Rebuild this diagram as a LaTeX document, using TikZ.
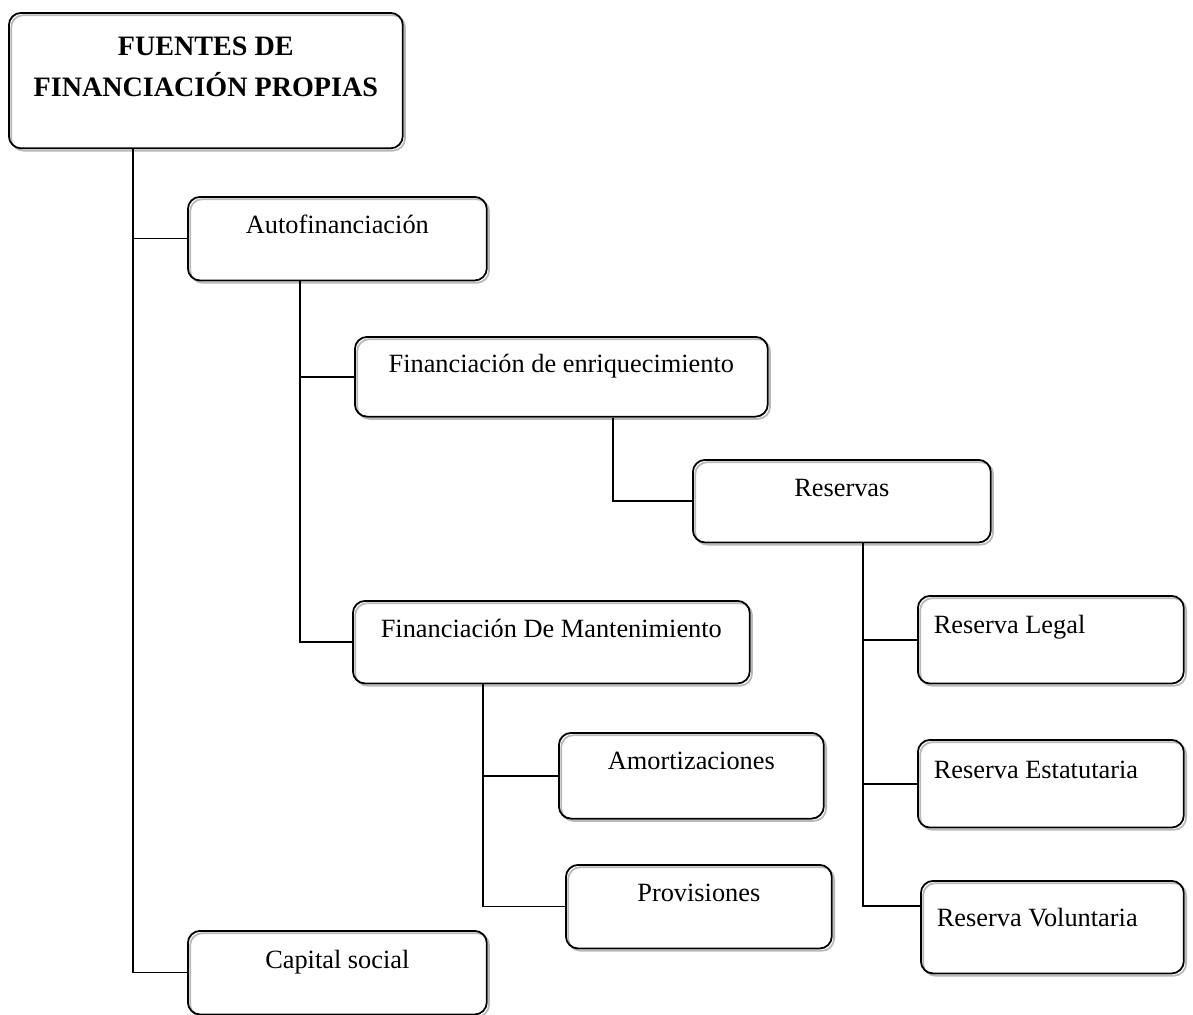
\documentclass[tikz,border=0pt]{standalone}
\usepackage{fontspec}
\setmainfont{Liberation Serif}
\usepackage{tikz}
\usetikzlibrary{positioning,calc}

\begin{document}
\begin{tikzpicture}[
  x=0.02cm, y=-0.02cm,
  every node/.style={font=\fontsize{15}{18}\selectfont},
  box/.style={draw,line width=1pt,rounded corners=7pt,anchor=north west,inner ysep=0pt,
    text height=21pt,text depth=26.6pt,
    preaction={draw=gray!55,line width=1pt,transform canvas={shift={(1.3pt,-1.3pt)}}}},
  rbox/.style={box,align=flush left,inner xsep=0.32cm,text width=4.68cm},
  link/.style={line width=0.9pt}
]
  \useasboundingbox (0,0) rectangle (1193,1014);

  % boxes
  \node[box,minimum width=7.88cm,align=center,text height=47.6pt,text depth=29.5pt,
        font=\bfseries\fontsize{16}{23.2}\selectfont] (top) at (8,12) {FUENTES DE\\FINANCIACIÓN PROPIAS};
  \node[box,minimum width=5.98cm] (auto) at (187,196) {Autofinanciación};
  \node[box,minimum width=8.26cm,text height=20pt,text depth=25.4pt] (fde) at (354,336) {Financiación de enriquecimiento};
  \node[box,minimum width=5.96cm,text depth=26pt] (res) at (692,459) {Reservas};
  \node[box,minimum width=7.94cm,text depth=26pt] (fdm) at (352,600) {Financiación De Mantenimiento};
  \node[rbox,text height=21.5pt,text depth=28.4pt] (rleg) at (917,595) {Reserva Legal};
  \node[rbox,text height=22.1pt,text depth=27.8pt] (rest) at (917,739) {Reserva Estatutaria};
  \node[rbox,text width=4.62cm,text height=26pt,text depth=26.7pt] (rvol) at (920,880) {Reserva Voluntaria};
  \node[box,minimum width=5.3cm,text depth=27.8pt] (amort) at (558,732) {Amortizaciones};
  \node[box,minimum width=5.32cm] (prov) at (565,864) {Provisiones};
  \node[box,minimum width=5.98cm,text height=21.5pt,text depth=26.1pt] (cap) at (187,930) {Capital social};

  % connectors
  \draw[link] ($(top.south west)+(125,0)$) coordinate (trunk) |- (auto.west);
  \draw[link] (trunk) |- (cap.west);
  \draw[link] ($(auto.south west)+(113,0)$) coordinate (autobus) |- (fde.west);
  \draw[link] (autobus) |- (fdm.west);
  \draw[link] ($(fde.south west)+(259,0)$) |- (res.west);
  \draw[link] ($(res.south west)+(171,0)$) coordinate (resbus) |- (rleg.west);
  \draw[link] (resbus) |- (rest.west);
  \draw[link] (resbus) |- ($(rvol.north west)+(0,26)$);
  \draw[link] ($(fdm.south west)+(131,0)$) coordinate (fdmbus) |- (amort.west);
  \draw[link] (fdmbus) |- (prov.west);
\end{tikzpicture}
\end{document}
